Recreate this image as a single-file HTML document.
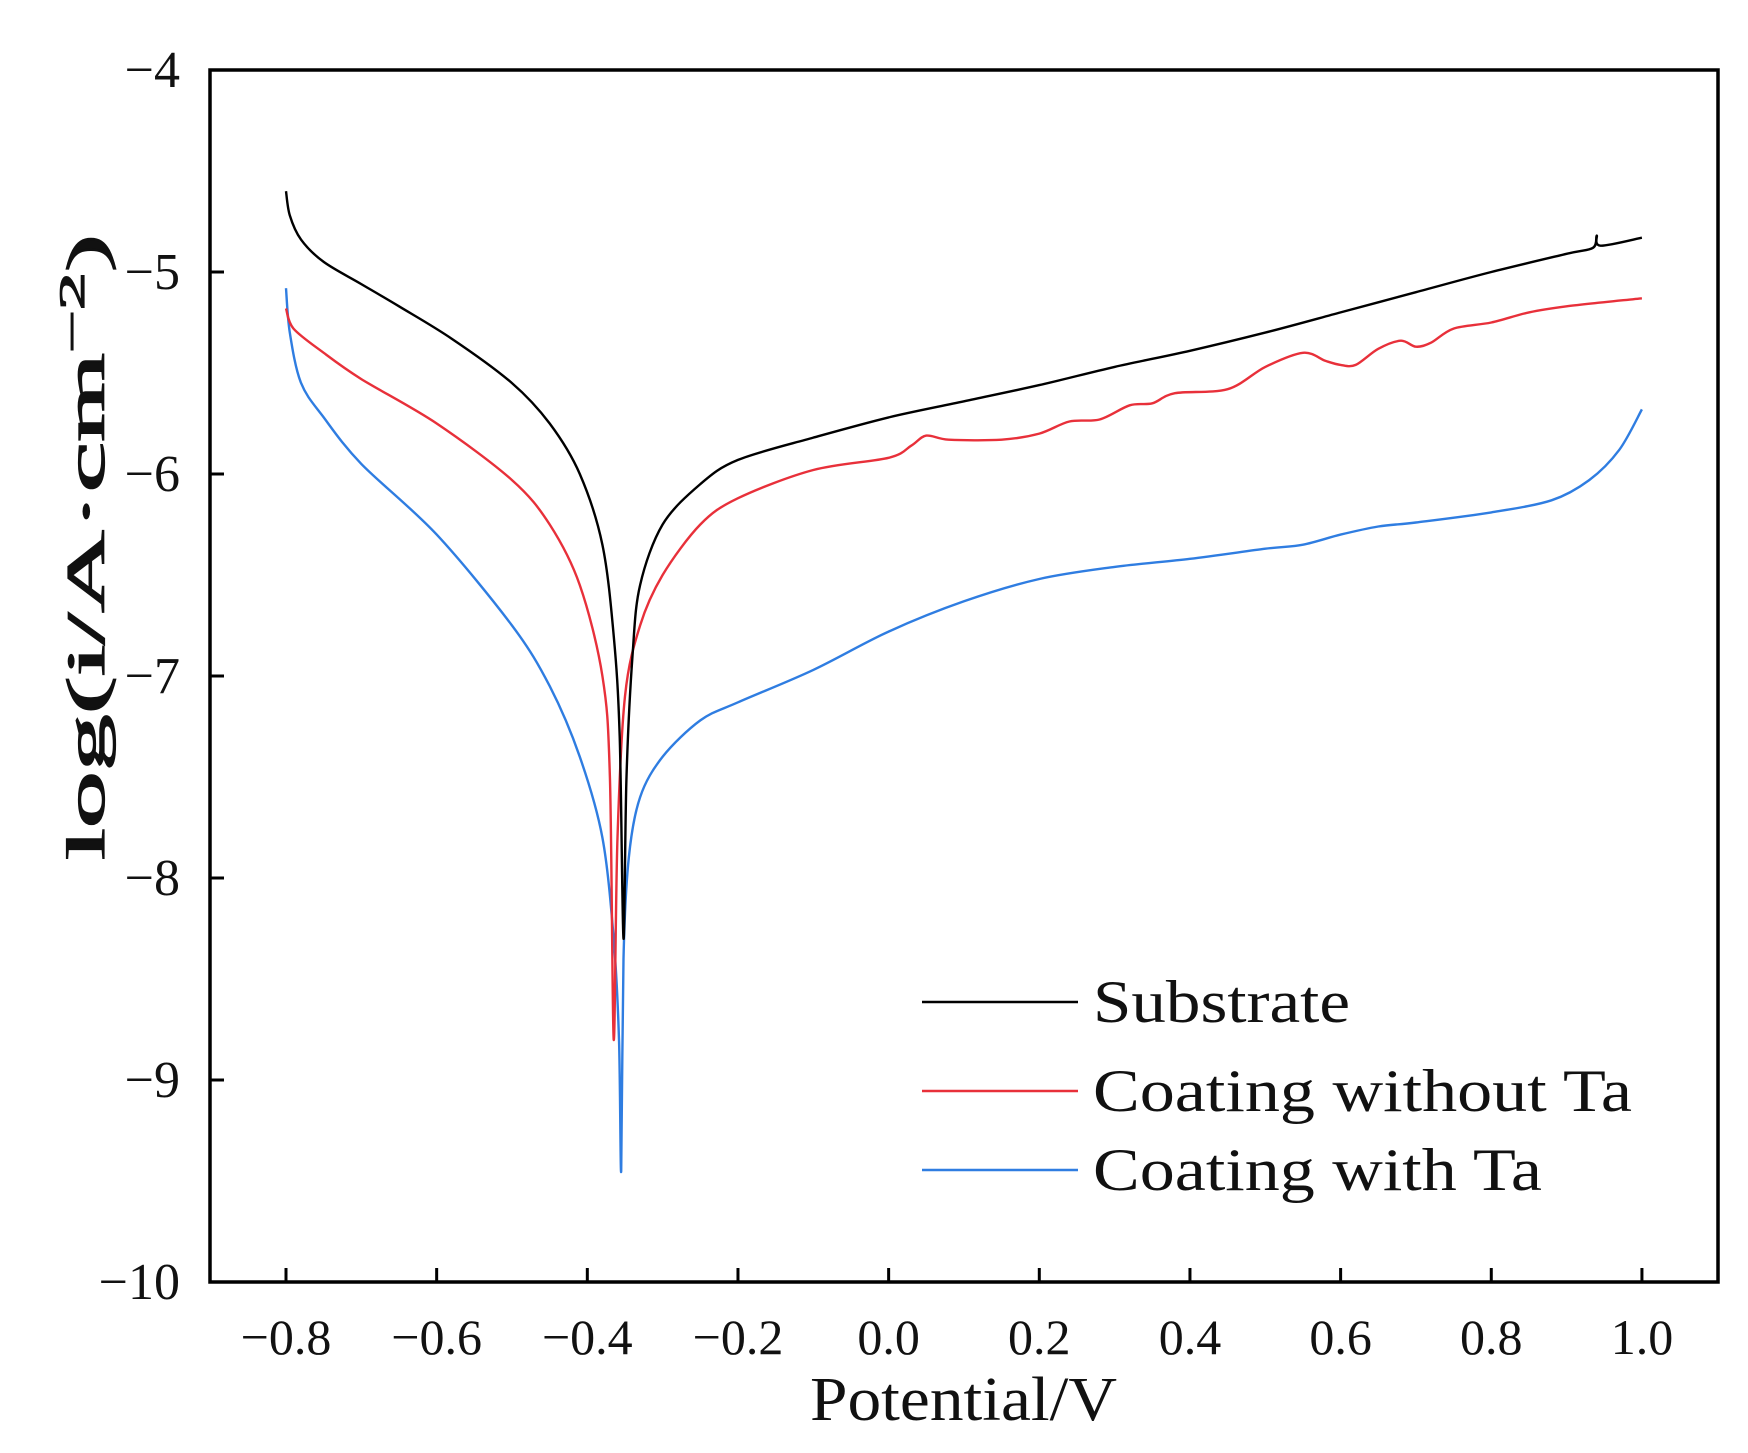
<!DOCTYPE html>
<html><head><meta charset="utf-8"><style>
html,body{margin:0;padding:0;background:#fff;}
svg{display:block;font-family:"Liberation Serif",serif;}
</style></head><body>
<svg id="s" width="1748" height="1453" viewBox="0 0 1748 1453" xmlns="http://www.w3.org/2000/svg">
<rect x="0" y="0" width="1748" height="1453" fill="#fff"/>
<g id="ticks"></g>
<g id="curves" fill="none" stroke-width="2.4" stroke-linejoin="round"></g>
<rect x="210" y="70" width="1508" height="1212" fill="none" stroke="#000" stroke-width="3.5"/>
<g font-size="60" fill="#111">
<line x1="922" y1="1002" x2="1078" y2="1002" stroke="#000" stroke-width="2.6"/>
<text x="1093" y="1022" textLength="257" lengthAdjust="spacingAndGlyphs">Substrate</text>
<line x1="922" y1="1091" x2="1078" y2="1091" stroke="#e8303a" stroke-width="2.6"/>
<text x="1093" y="1111" textLength="539" lengthAdjust="spacingAndGlyphs">Coating without Ta</text>
<line x1="922" y1="1170" x2="1078" y2="1170" stroke="#2f7de1" stroke-width="2.6"/>
<text x="1093" y="1190" textLength="449" lengthAdjust="spacingAndGlyphs">Coating with Ta</text>
</g>
<text x="810" y="1420" font-size="62" fill="#111" textLength="307" lengthAdjust="spacingAndGlyphs">Potential/V</text>
<text transform="translate(104,547) rotate(-90)" font-size="54" text-anchor="middle" fill="#111" stroke="#111" stroke-width="1.2" textLength="626" lengthAdjust="spacingAndGlyphs">log(i/A·cm<tspan dy="-20" font-size="36">−2</tspan><tspan dy="20">)</tspan></text>
</svg>
<script>
const X=v=>286+(v+0.8)*753.3, Y=l=>70+(-4-l)*202;
const tk=document.getElementById("ticks");
let h="";
for(let i=0;i<=9;i++){const v=-0.8+0.2*i,x=X(v);h+=`<line x1="${x}" y1="1282" x2="${x}" y2="1268" stroke="#000" stroke-width="3"/>`;
h+=`<text x="${x}" y="1354" font-size="50" text-anchor="middle" fill="#111">${v<-0.001?"−"+Math.abs(v).toFixed(1):Math.abs(v).toFixed(1)}</text>`;}
for(let l=-4;l>=-10;l--){const y=Y(l);h+=`<line x1="210" y1="${y}" x2="224" y2="${y}" stroke="#000" stroke-width="3"/>`;
h+=`<text x="180" y="${y+17}" font-size="52" text-anchor="end" fill="#111">−${-l}</text>`;}
tk.innerHTML=h;
const B=[[-0.8,-4.6],[-0.795,-4.72],[-0.78,-4.84],[-0.75,-4.95],[-0.7,-5.06],[-0.65,-5.17],[-0.58,-5.33],[-0.5,-5.55],[-0.45,-5.75],[-0.41,-6.0],[-0.38,-6.35],[-0.365,-6.8],[-0.357,-7.3],[-0.352,-8.3],[-0.348,-7.5],[-0.34,-6.9],[-0.33,-6.55],[-0.3,-6.25],[-0.25,-6.05],[-0.2,-5.93],[-0.1,-5.82],[0,-5.72],[0.1,-5.64],[0.2,-5.56],[0.3,-5.47],[0.4,-5.39],[0.5,-5.3],[0.6,-5.2],[0.7,-5.1],[0.8,-5.0],[0.9,-4.91],[0.935,-4.88],[0.94,-4.82],[0.945,-4.87],[1.0,-4.83]];
const R=[[-0.8,-5.18],[-0.79,-5.28],[-0.75,-5.4],[-0.7,-5.53],[-0.6,-5.75],[-0.5,-6.03],[-0.45,-6.25],[-0.41,-6.55],[-0.38,-7.0],[-0.37,-7.5],[-0.365,-8.8],[-0.36,-7.8],[-0.35,-7.1],[-0.33,-6.75],[-0.3,-6.5],[-0.25,-6.25],[-0.2,-6.12],[-0.1,-5.98],[0,-5.92],[0.03,-5.86],[0.05,-5.81],[0.08,-5.83],[0.15,-5.83],[0.2,-5.8],[0.24,-5.74],[0.28,-5.73],[0.32,-5.66],[0.35,-5.65],[0.38,-5.6],[0.45,-5.58],[0.5,-5.47],[0.55,-5.4],[0.58,-5.44],[0.6,-5.46],[0.62,-5.46],[0.65,-5.38],[0.68,-5.34],[0.7,-5.37],[0.72,-5.35],[0.75,-5.28],[0.8,-5.25],[0.85,-5.2],[0.9,-5.17],[1.0,-5.13]];
const L=[[-0.8,-5.08],[-0.795,-5.3],[-0.78,-5.55],[-0.75,-5.72],[-0.7,-5.95],[-0.6,-6.3],[-0.5,-6.75],[-0.45,-7.05],[-0.41,-7.4],[-0.38,-7.8],[-0.365,-8.3],[-0.358,-8.8],[-0.355,-9.45],[-0.352,-8.4],[-0.345,-7.9],[-0.33,-7.6],[-0.3,-7.4],[-0.25,-7.22],[-0.2,-7.13],[-0.1,-6.97],[0,-6.78],[0.1,-6.63],[0.2,-6.52],[0.3,-6.46],[0.4,-6.42],[0.5,-6.37],[0.55,-6.35],[0.6,-6.3],[0.65,-6.26],[0.7,-6.24],[0.8,-6.19],[0.88,-6.13],[0.93,-6.03],[0.97,-5.88],[1.0,-5.68]];
function path(d){const p=d.map(q=>[X(q[0]),Y(q[1])]);let s=`M${p[0][0].toFixed(1)},${p[0][1].toFixed(1)}`;
for(let i=0;i<p.length-1;i++){const p0=p[i-1]||p[i],p1=p[i],p2=p[i+1],p3=p[i+2]||p2;const t=0.16;
const c1=[p1[0]+(p2[0]-p0[0])*t,p1[1]+(p2[1]-p0[1])*t],c2=[p2[0]-(p3[0]-p1[0])*t,p2[1]-(p3[1]-p1[1])*t];
s+=` C${c1[0].toFixed(1)},${c1[1].toFixed(1)} ${c2[0].toFixed(1)},${c2[1].toFixed(1)} ${p2[0].toFixed(1)},${p2[1].toFixed(1)}`;}return s;}
let c="";
for(const [d,col] of [[L,"#2f7de1"],[R,"#e8303a"],[B,"#000"]]){c+=`<path stroke="${col}" d="${path(d)}"/>`;}
document.getElementById("curves").innerHTML=c;
</script>
</body></html>
